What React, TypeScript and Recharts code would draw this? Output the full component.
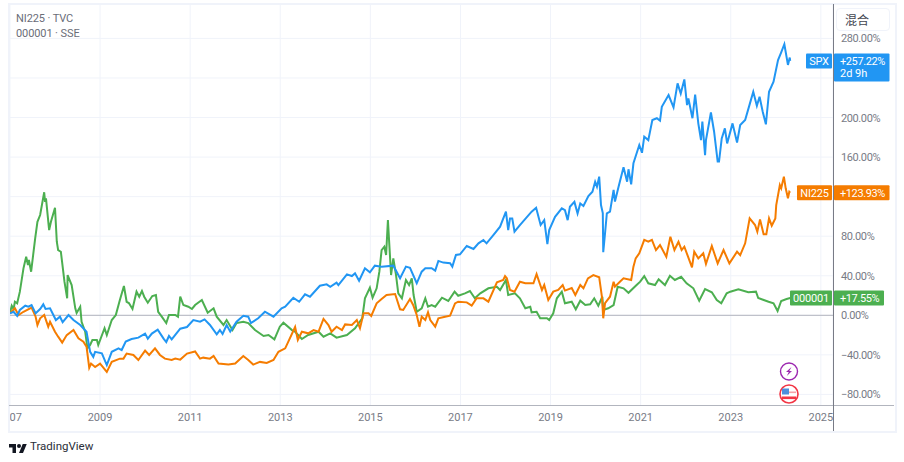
import { CartesianGrid, Line, LineChart, ReferenceDot, ReferenceLine, XAxis, YAxis } from 'recharts';

// [year, % change]
const spx: [number, number][] = [
  [2007.0, 2], [2007.08, 3.6], [2007.16, -0.7], [2007.22, 5.4], [2007.34, 9.7], [2007.41, 8.7], [2007.48, 10.4], [2007.57, 2],
  [2007.67, 6.4], [2007.74, 11.1], [2007.79, 6.4], [2007.89, 7.1], [2008.02, -4.8], [2008.11, -1.4], [2008.17, -7], [2008.3, 0.3],
  [2008.41, -4.8], [2008.56, -9.8], [2008.7, -16.6], [2008.78, -36.9], [2008.85, -42], [2008.89, -36.9], [2009.04, -38.5], [2009.15, -50.3],
  [2009.26, -36.9], [2009.41, -33.4], [2009.48, -35.1], [2009.57, -26.6], [2009.7, -24], [2009.85, -22.6], [2010.0, -18.5], [2010.06, -23.6],
  [2010.15, -18.5], [2010.28, -14.5], [2010.41, -23.6], [2010.47, -27], [2010.53, -20.9], [2010.59, -24.3], [2010.78, -13.5], [2010.93, -11.8],
  [2011.07, -4.8], [2011.22, -6.5], [2011.32, -4.1], [2011.44, -9.8], [2011.59, -19.2], [2011.66, -14.9], [2011.72, -18.9], [2011.81, -9.8],
  [2011.89, -16.5], [2012.03, -6.5], [2012.18, -0.4], [2012.29, -1.4], [2012.35, -7.8], [2012.51, -3], [2012.66, 3.6], [2012.85, -1.4],
  [2013.03, 7.1], [2013.11, 8.7], [2013.29, 17.8], [2013.42, 13.7], [2013.55, 21.2], [2013.66, 18.8], [2013.88, 29.9], [2014.03, 31.3],
  [2014.11, 28.9], [2014.25, 33], [2014.29, 30.6], [2014.48, 41.4], [2014.59, 39.7], [2014.66, 42.4], [2014.75, 35], [2014.88, 47.6],
  [2014.99, 43.5], [2015.1, 50.2], [2015.25, 49.2], [2015.51, 50.2], [2015.66, 37.5], [2015.79, 49.2], [2015.88, 48.1], [2016.03, 32.4],
  [2016.14, 44.1], [2016.22, 47.6], [2016.36, 47.6], [2016.44, 45.2], [2016.51, 55], [2016.62, 53.3], [2016.77, 52.7], [2016.82, 49.2],
  [2016.9, 61], [2016.99, 61.7], [2017.14, 70.1], [2017.29, 67.1], [2017.4, 72.8], [2017.51, 76.2], [2017.58, 72.8], [2017.73, 81.2],
  [2017.88, 89.6], [2018.01, 104.8], [2018.06, 86.2], [2018.1, 98], [2018.15, 98], [2018.2, 84.5], [2018.32, 91.3], [2018.45, 98],
  [2018.58, 104.8], [2018.68, 108.8], [2018.78, 91.3], [2018.86, 96.3], [2018.93, 72], [2018.97, 86.2], [2019.1, 99.6], [2019.25, 108.1],
  [2019.32, 106.3], [2019.38, 96.2], [2019.43, 109.7], [2019.53, 114.7], [2019.6, 103], [2019.66, 113], [2019.73, 110.5], [2019.84, 120.6],
  [2019.93, 125], [2019.99, 135.1], [2020.03, 130.1], [2020.08, 140.2], [2020.12, 111.5], [2020.16, 103.3], [2020.17, 63.8], [2020.21, 83],
  [2020.25, 103.2], [2020.32, 104.9], [2020.4, 126.8], [2020.43, 115], [2020.51, 130.1], [2020.62, 149.7], [2020.7, 135.1], [2020.73, 147.7],
  [2020.79, 132.4], [2020.84, 153.7], [2020.97, 172.2], [2021.03, 164.4], [2021.08, 180.6], [2021.17, 177.2], [2021.26, 197.5], [2021.36, 199.3],
  [2021.43, 196.8], [2021.47, 210.9], [2021.62, 222.7], [2021.73, 210.3], [2021.82, 234.5], [2021.89, 224.3], [2021.97, 238.5], [2022.03, 212.6],
  [2022.06, 219.3], [2022.15, 199.3], [2022.21, 223.3], [2022.28, 194.1], [2022.34, 177.2], [2022.37, 195.8], [2022.43, 162], [2022.45, 177.2],
  [2022.56, 205.1], [2022.63, 185.9], [2022.71, 155.5], [2022.74, 155.5], [2022.8, 178.9], [2022.87, 189], [2022.92, 173.8], [2023.04, 194.1],
  [2023.14, 174.8], [2023.21, 192.4], [2023.32, 197.5], [2023.42, 213.3], [2023.5, 226.1], [2023.58, 211.9], [2023.64, 221], [2023.71, 205.9],
  [2023.78, 193.1], [2023.85, 226.1], [2023.95, 236.2], [2024.05, 258.1], [2024.12, 266], [2024.19, 274.1], [2024.27, 253.2], [2024.31, 260.6],
  [2024.32, 257.22],
];

const ni225: [number, number][] = [
  [2007.0, 2], [2007.11, 7.1], [2007.19, 0.3], [2007.3, 3.6], [2007.48, 7.7], [2007.57, -1.4], [2007.61, -9.8], [2007.67, -3],
  [2007.76, 0.3], [2007.85, -11.5], [2007.89, -6.5], [2008.0, -16.6], [2008.07, -21.6], [2008.16, -27.6], [2008.26, -20], [2008.41, -14.9],
  [2008.52, -23.3], [2008.63, -26.6], [2008.7, -31.7], [2008.76, -53], [2008.8, -48.8], [2008.89, -52.3], [2009.0, -48.8], [2009.15, -57.2],
  [2009.26, -47.1], [2009.44, -43.8], [2009.52, -43.8], [2009.59, -38.7], [2009.74, -40.1], [2009.85, -45.2], [2010.0, -35.7], [2010.09, -40.1],
  [2010.22, -33.4], [2010.33, -40.1], [2010.44, -43.8], [2010.59, -45.2], [2010.67, -43.8], [2010.78, -44.8], [2010.93, -38.7], [2011.11, -36.6],
  [2011.22, -43.8], [2011.29, -42.8], [2011.44, -43.8], [2011.52, -41.1], [2011.63, -48.8], [2011.85, -49.8], [2012.0, -48.8], [2012.18, -41.2],
  [2012.29, -45.2], [2012.4, -49.8], [2012.55, -47.1], [2012.7, -48.2], [2012.85, -45.2], [2012.96, -36.9], [2013.11, -33.4], [2013.33, -11.8],
  [2013.39, -25], [2013.48, -16.6], [2013.62, -18.2], [2013.74, -14.9], [2013.85, -16.6], [2013.96, -3.7], [2014.07, -9.8], [2014.14, -16.6],
  [2014.25, -11.5], [2014.37, -14.9], [2014.44, -9.2], [2014.59, -9.8], [2014.7, -4.8], [2014.77, -13.1], [2014.85, 2], [2014.96, 2],
  [2015.02, -0.7], [2015.14, 12.1], [2015.25, 16.5], [2015.36, 20.5], [2015.55, 21.5], [2015.66, 6.1], [2015.73, 5.4], [2015.88, 16.5],
  [2015.95, 10.4], [2016.03, 0.3], [2016.09, -11.5], [2016.14, -1.4], [2016.22, -4.8], [2016.28, 3], [2016.33, -4.8], [2016.44, -11.5],
  [2016.51, -3], [2016.66, -1.4], [2016.77, -0.4], [2016.88, 12.1], [2016.95, 13.8], [2017.14, 13.1], [2017.25, 9.8], [2017.36, 17.2],
  [2017.51, 17.2], [2017.62, 13.8], [2017.81, 33.4], [2017.95, 35.7], [2017.99, 39.7], [2018.03, 37.4], [2018.1, 25.6], [2018.2, 23.9],
  [2018.32, 34], [2018.44, 32.4], [2018.62, 32.4], [2018.69, 41.7], [2018.81, 25.6], [2018.86, 30.6], [2018.95, 15.5], [2019.06, 23.9],
  [2019.17, 25.6], [2019.27, 30.6], [2019.32, 25], [2019.47, 27.6], [2019.55, 20.5], [2019.66, 30.6], [2019.73, 27.3], [2019.83, 37.4],
  [2019.95, 40.7], [2020.08, 38.4], [2020.14, 18.8], [2020.17, -3], [2020.21, 12.4], [2020.32, 18.8], [2020.4, 34], [2020.43, 29],
  [2020.54, 34], [2020.62, 37.4], [2020.79, 35.7], [2020.84, 49.2], [2020.89, 57.6], [2020.97, 62.7], [2021.01, 67.7], [2021.08, 76.2],
  [2021.17, 74.4], [2021.25, 76.2], [2021.34, 66], [2021.43, 71.1], [2021.57, 59.2], [2021.66, 79.4], [2021.75, 66], [2021.84, 74.4],
  [2021.91, 66], [2021.97, 69.4], [2022.14, 48.5], [2022.19, 64.3], [2022.28, 57.6], [2022.39, 62.7], [2022.45, 52], [2022.58, 70.1],
  [2022.71, 52.5], [2022.84, 66], [2022.97, 52.5], [2023.14, 64.3], [2023.21, 60.9], [2023.32, 72.8], [2023.42, 98], [2023.54, 91.3],
  [2023.59, 84.5], [2023.65, 97], [2023.73, 82], [2023.79, 82], [2023.85, 98], [2023.91, 90.6], [2023.99, 98], [2024.01, 111.5],
  [2024.09, 131.7], [2024.12, 128.4], [2024.18, 140.2], [2024.22, 128.4], [2024.27, 118.3], [2024.3, 124.9], [2024.32, 123.93],
];

const sse: [number, number][] = [
  [2007.0, 2], [2007.04, 9.7], [2007.08, 6.4], [2007.11, 13.7], [2007.16, 12.1], [2007.22, 23.9], [2007.3, 47.5], [2007.36, 59.2],
  [2007.4, 50.9], [2007.42, 55.9], [2007.47, 44.1], [2007.56, 77.8], [2007.61, 94.6], [2007.67, 101.4], [2007.76, 124.4], [2007.78, 114.8],
  [2007.8, 118.3], [2007.87, 86.2], [2007.91, 94.6], [2008.0, 108.8], [2008.04, 74.4], [2008.07, 66], [2008.13, 64.3], [2008.21, 34],
  [2008.27, 17.2], [2008.28, 40.7], [2008.37, 30.6], [2008.45, 7.1], [2008.48, 2.3], [2008.56, 8.7], [2008.59, -6.5], [2008.67, -16.6],
  [2008.72, -33.4], [2008.78, -30], [2008.83, -25], [2008.93, -25], [2008.96, -30], [2009.1, -13.1], [2009.15, -19.9], [2009.26, -4.8],
  [2009.35, 0.3], [2009.44, 15.5], [2009.53, 29.6], [2009.59, 13.7], [2009.64, 12.4], [2009.72, 6.4], [2009.81, 23.9], [2009.87, 18.8],
  [2009.93, 24.6], [2009.98, 18.8], [2010.06, 12.7], [2010.16, 19.5], [2010.24, 20.5], [2010.29, 3.6], [2010.37, -1.4], [2010.47, -7.8],
  [2010.53, 0.3], [2010.67, 0.3], [2010.73, -1.4], [2010.78, 18.8], [2010.85, 10.4], [2010.96, 8.7], [2011.04, 6.4], [2011.11, 10.4],
  [2011.26, 15.5], [2011.39, 2.6], [2011.52, 7.1], [2011.59, -1.4], [2011.74, -9.8], [2011.81, -4.8], [2011.94, -14.9], [2012.03, -7.8],
  [2012.18, -6.5], [2012.29, -7.8], [2012.44, -14.9], [2012.63, -20.9], [2012.74, -19.9], [2012.87, -24.3], [2012.99, -11.5], [2013.07, -7.5],
  [2013.26, -14.9], [2013.33, -16.6], [2013.48, -24], [2013.62, -19.9], [2013.85, -16.6], [2013.96, -21.6], [2014.11, -18.2], [2014.25, -22.6],
  [2014.48, -19.9], [2014.66, -13.1], [2014.82, -3], [2014.88, 17.2], [2014.99, 27.9], [2015.05, 17.8], [2015.14, 27.3], [2015.2, 44.1],
  [2015.25, 66], [2015.31, 69.4], [2015.35, 61], [2015.39, 96.3], [2015.46, 40.7], [2015.51, 57.6], [2015.57, 40.7], [2015.62, 22.2],
  [2015.7, 17.2], [2015.79, 35.7], [2015.86, 30.6], [2015.92, 37.4], [2015.96, 20.5], [2016.03, 3.6], [2016.14, 7.1], [2016.22, 17.2],
  [2016.28, 8.7], [2016.36, 10.4], [2016.44, 8.7], [2016.59, 17.8], [2016.73, 14.5], [2016.87, 23.9], [2016.95, 19.8], [2017.1, 22.2],
  [2017.21, 24.6], [2017.32, 17.2], [2017.44, 22.2], [2017.62, 27.3], [2017.81, 28.9], [2017.88, 25.6], [2018.01, 35.7], [2018.06, 20.5],
  [2018.21, 22.2], [2018.32, 17.2], [2018.44, 7.1], [2018.55, 8.7], [2018.58, 3], [2018.69, 3.6], [2018.77, -3], [2018.92, -3],
  [2018.97, -4.8], [2019.06, 2], [2019.14, 17.2], [2019.25, 23.9], [2019.32, 12.1], [2019.47, 13.7], [2019.56, 6.1], [2019.66, 14.8],
  [2019.77, 10.4], [2019.88, 11.1], [2019.97, 17.2], [2020.06, 9.7], [2020.15, 18.8], [2020.17, 5.4], [2020.28, 7.1], [2020.4, 10.4],
  [2020.49, 28.9], [2020.62, 27.3], [2020.73, 22.8], [2020.91, 30.6], [2020.99, 34], [2021.08, 39.7], [2021.17, 32.4], [2021.32, 30.6],
  [2021.4, 36.4], [2021.54, 30.6], [2021.65, 40], [2021.76, 35.7], [2021.9, 39], [2022.02, 32.4], [2022.17, 27.3], [2022.3, 14.8],
  [2022.43, 26.6], [2022.58, 23.3], [2022.69, 15.5], [2022.79, 12.1], [2022.91, 22.2], [2022.99, 23.9], [2023.17, 26.3], [2023.39, 23.3],
  [2023.56, 23.9], [2023.61, 17.5], [2023.84, 13.7], [2023.95, 12.1], [2024.04, 4.3], [2024.12, 14.5], [2024.24, 16.5], [2024.32, 17.55],
];

const yearTicks = [2007, 2009, 2011, 2013, 2015, 2017, 2019, 2021, 2023, 2025];
const percentTicks = [-80, -40, 0, 40, 80, 120, 160, 200, 240, 280];
// these two sit under the SPX and NI225 price tags, so only their grid lines show
const hiddenPercentLabels = [120, 240];

const BLUE = '#2196f3';
const ORANGE = '#f57c00';
const GREEN = '#4caf50';
const AXIS_TEXT = '#787b86';
const GRID = '#f0f3fa';
const FONT = 'Roboto, sans-serif';

const toRows = (points: [number, number][]) => points.map(([year, pct]) => ({ year, pct }));

function XTick({ x, y, payload }: any) {
  const first = payload.value === 2007;
  return (
    <text x={first ? 9.5 : x} y={y + 7} textAnchor={first ? 'start' : 'middle'} fontSize={11} fontFamily={FONT} fill={AXIS_TEXT}>
      {first ? '07' : payload.value}
    </text>
  );
}

function YTick({ x, y, payload }: any) {
  const v = payload.value;
  if (hiddenPercentLabels.includes(v)) return <g />;
  const label = (v < 0 ? '\u2212' + Math.abs(v) : v) + '.00%';
  return (
    <text x={841} y={y + 4} fontSize={11} fontFamily={FONT} fill={AXIS_TEXT} letterSpacing={-0.4}>
      {label}
    </text>
  );
}

// symbol pill + value pill, hanging off the right axis line
function priceTag(symbol: string, value: string, color: string, symW: number, valW: number, extra?: string) {
  return ({ cy }: any) => {
    const top = cy - 7.5;
    const h = extra ? 28 : 15;
    return (
      <g fontFamily={FONT} fontSize={11} fill="#fff">
        <rect x={832 - symW} y={top} width={symW} height={15} rx={1} fill={color} />
        <text x={832 - symW / 2} y={cy + 4} textAnchor="middle" letterSpacing={-0.2}>{symbol}</text>
        <rect x={834} y={top} width={valW} height={h} rx={1} fill={color} />
        <text x={840} y={cy + 4} letterSpacing={-0.4}>{value}</text>
        {extra && <text x={840} y={cy + 16}>{extra}</text>}
      </g>
    );
  };
}

export default function App() {
  return (
    <div style={{ position: 'absolute', left: 0, top: 0, width: 904, height: 462, background: '#fff', overflow: 'hidden' }}>
      <LineChart width={904} height={462} margin={{ top: 4.5, left: 9.5, right: 11, bottom: 31.5 }} style={{ position: 'absolute', left: 0, top: 0 }}>
        <CartesianGrid stroke={GRID} />
        <XAxis
          dataKey="year"
          type="number"
          domain={[2006.99, 2025.27]}
          ticks={yearTicks}
          interval={0}
          height={25}
          axisLine={false}
          tickLine={false}
          tick={XTick}
          allowDuplicatedCategory={false}
        />
        <YAxis
          orientation="right"
          domain={[-91.2, 314.3]}
          ticks={percentTicks}
          interval={0}
          width={60}
          axisLine={false}
          tickLine={false}
          tick={YTick}
          allowDataOverflow
        />
        <ReferenceLine y={0} stroke="#b2b5be" />
        <Line data={toRows(sse)} dataKey="pct" stroke={GREEN} strokeWidth={2} dot={false} isAnimationActive={false} />
        <Line data={toRows(ni225)} dataKey="pct" stroke={ORANGE} strokeWidth={2} dot={false} isAnimationActive={false} />
        <Line data={toRows(spx)} dataKey="pct" stroke={BLUE} strokeWidth={2} dot={false} isAnimationActive={false} />
        <ReferenceDot x={2025.2} y={257.22} ifOverflow="visible" shape={priceTag('SPX', '+257.22%', BLUE, 26, 55.5, '2d 9h')} />
        <ReferenceDot x={2025.2} y={123.93} ifOverflow="visible" shape={priceTag('NI225', '+123.93%', ORANGE, 35, 55.5)} />
        <ReferenceDot x={2025.2} y={17.55} ifOverflow="visible" shape={priceTag('000001', '+17.55%', GREEN, 42, 50)} />
      </LineChart>

      <div style={{ position: 'absolute', left: 8, top: 3, width: 885, height: 426, border: `2px solid ${GRID}` }} />
      <div style={{ position: 'absolute', left: 9, top: 405, width: 885, height: 1, background: '#b2b5be' }} />
      <div style={{ position: 'absolute', left: 833, top: 4, width: 1, height: 427, background: AXIS_TEXT }} />

      <div style={{ position: 'absolute', left: 16, top: 11, fontFamily: FONT, fontSize: 11, lineHeight: '15px', color: '#6a6d78', letterSpacing: -0.1 }}>
        <div>NI225 · TVC</div>
        <div>000001 · SSE</div>
      </div>

      <div
        style={{
          position: 'absolute',
          left: 836,
          top: 8,
          width: 54,
          height: 23,
          boxSizing: 'border-box',
          background: '#fff',
          border: `1px solid ${GRID}`,
          borderRadius: 4,
          paddingLeft: 8,
          fontFamily: '"Noto Sans CJK SC"',
          fontSize: 12,
          lineHeight: '21px',
          color: '#434651',
        }}
      >
        混合
      </div>

      <svg width={904} height={462} style={{ position: 'absolute', left: 0, top: 0, pointerEvents: 'none' }}>
        <circle cx={789} cy={371.5} r={8.5} fill="#fff" stroke="#9c27b0" strokeWidth={1.4} />
        <path d="M791.5 367 L786 372 L788.8 372 L786.8 376 L792 371 L789.3 371 Z" fill="#9c27b0" />
        <circle cx={789} cy={394} r={9} fill="#fff" stroke="#f23645" strokeWidth={1.6} />
        <rect x={782} y={396.5} width={14} height={2.6} fill="#f23645" />
        <rect x={782} y={391.5} width={14} height={1.6} fill="#f7a1a8" />
        <rect x={782} y={388.5} width={7} height={6} fill="#4d8fdc" />
        <g transform="translate(9 442) scale(0.5)" fill="#131722">
          <path d="M14 22H7V11H0V4h14v18zM28 22h-8l7.5-18h8L28 22z" />
          <circle cx={20} cy={8} r={4} />
        </g>
        <text x={30} y={450} fontFamily={FONT} fontSize={11.5} fill="#2a2e39">TradingView</text>
      </svg>
    </div>
  );
}
